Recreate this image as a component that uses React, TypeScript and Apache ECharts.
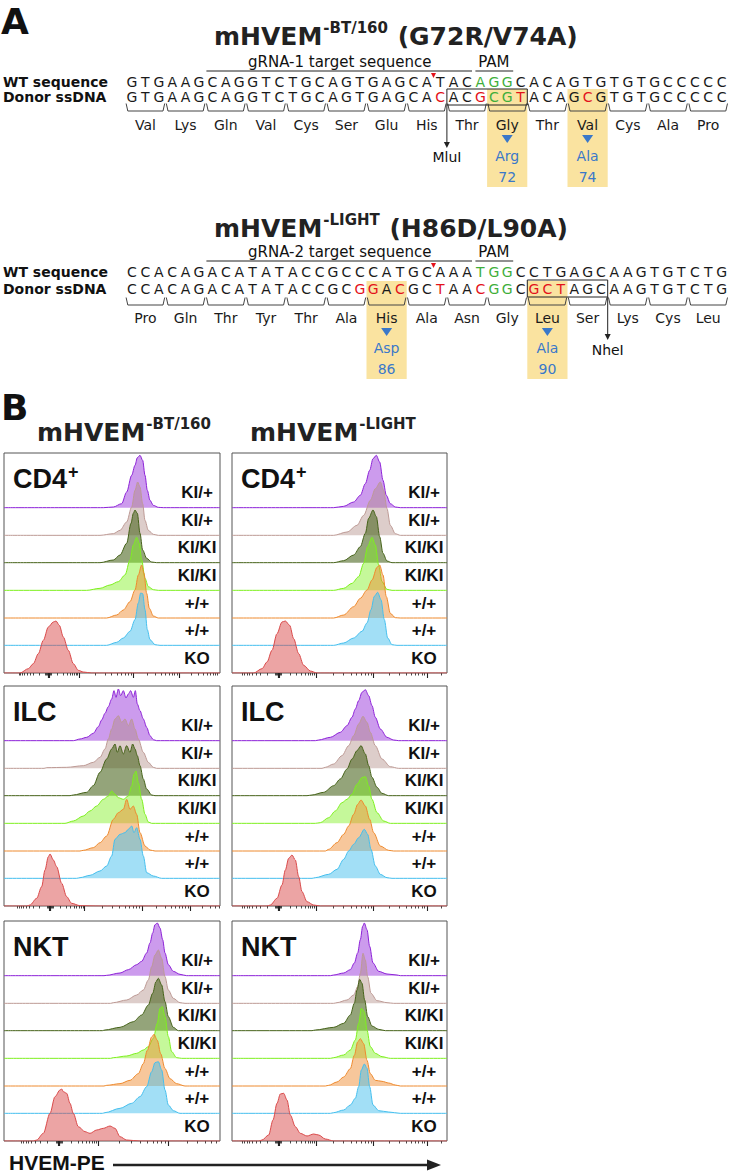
import React, { useEffect, useRef } from 'react';
import * as echarts from 'echarts';

// ---------------- Panel A data ----------------
const seq1WT = 'GTGAAGCAGGTCTGCAGTGAGCATACAGGCACAGTGTGTGCCCCC';
const seq1Donor = 'GTGAAGCAGGTCTGCAGTGAGCACACGCGTACAGCGTGTGCCCCC';
const seq1WTGreen = [26, 27, 28];
const seq1DonorRed = [23, 26, 29, 34];
const seq1DonorGreen = [27, 28];
const aa1 = ['Val', 'Lys', 'Gln', 'Val', 'Cys', 'Ser', 'Glu', 'His', 'Thr', 'Gly', 'Thr', 'Val', 'Cys', 'Ala', 'Pro'];
const mut1Codons = [9, 11];
const mut1AA = ['Arg', 'Ala'];
const mut1Pos = ['72', '74'];

const seq2WT = 'CCACAGACATATACCGCCCATGCAAATGGCCTGAGCAAGTGTCTG';
const seq2Donor = 'CCACAGACATATACCGCGGACGCTAACGGCGCTAGCAAGTGTCTG';
const seq2WTGreen = [26, 27, 28];
const seq2DonorRed = [17, 18, 20, 23, 26, 30, 31, 32];
const seq2DonorGreen = [27, 28];
const aa2 = ['Pro', 'Gln', 'Thr', 'Tyr', 'Thr', 'Ala', 'His', 'Ala', 'Asn', 'Gly', 'Leu', 'Ser', 'Lys', 'Cys', 'Leu'];
const mut2Codons = [6, 10];
const mut2AA = ['Asp', 'Ala'];
const mut2Pos = ['86', '90'];

// ---------------- Panel B data ----------------
// histogram rows (top->bottom): purple, brown, dark green, lime, orange, blue, KO
// each point: [fluorescence channel, height above the row baseline]
const genotypes = ['KI/+', 'KI/+', 'KI/KI', 'KI/KI', '+/+', '+/+', 'KO'];
const cellTypes = ['CD4', 'ILC', 'NKT'];

const cd4Bt = [
  [[298,0],[328,2],[353,12],[368,47],[383,97],[393,127],[400,150],[408,157],[416,142],[423,97],[430,52],[438,22],[448,7],[463,1],[478,0]],
  [[288,0],[328,5],[348,15],[368,40],[383,85],[393,135],[401,160],[408,145],[416,95],[423,45],[433,15],[448,3],[463,0]],
  [[288,0],[328,8],[348,23],[368,58],[381,118],[388,148],[393,158],[400,148],[408,88],[416,38],[428,13],[443,2],[458,0]],
  [[248,0],[288,6],[318,16],[343,26],[363,46],[378,91],[388,136],[398,159],[406,141],[413,91],[423,36],[433,11],[448,2],[463,0]],
  [[308,0],[338,9],[358,24],[378,49],[393,84],[403,129],[413,159],[420,134],[428,74],[436,29],[448,6],[463,0]],
  [[308,0],[338,9],[358,22],[378,42],[393,77],[403,127],[410,157],[416,155],[423,107],[430,47],[438,17],[453,2],[468,0]],
  [[48,0],[73,13],[88,28],[103,58],[118,98],[133,138],[148,153],[156,156],[166,143],[178,108],[193,68],[208,28],[223,8],[238,3],[263,0]],
];
const cd4Light = [
  [[305,0],[335,4],[365,17],[385,37],[400,72],[413,112],[423,147],[433,157],[443,137],[453,82],[463,37],[475,12],[490,2],[505,0]],
  [[305,0],[345,10],[375,30],[395,60],[415,105],[430,140],[445,160],[455,135],[465,80],[475,30],[490,5],[505,0]],
  [[305,0],[335,6],[365,23],[385,48],[400,88],[410,133],[423,158],[433,138],[443,78],[453,28],[465,5],[480,0]],
  [[305,0],[335,6],[360,21],[380,41],[395,81],[407,131],[420,159],[430,136],[440,76],[450,26],[465,3],[480,0]],
  [[305,0],[335,9],[365,34],[385,59],[405,84],[420,114],[435,152],[443,159],[453,129],[463,64],[475,14],[490,1],[505,0]],
  [[305,0],[335,7],[365,22],[390,42],[405,67],[417,107],[427,147],[437,159],[447,137],[457,77],[467,22],[480,2],[495,0]],
  [[65,0],[90,13],[105,33],[120,68],[135,118],[150,153],[160,156],[173,143],[185,103],[200,58],[215,23],[235,6],[255,0]],
];
const ilcBt = [
  [[208,0],[228,5],[248,10],[268,22],[283,42],[293,62],[303,82],[313,102],[323,125],[330,150],[336,130],[343,155],[350,135],[358,150],[366,128],[373,140],[380,150],[388,130],[394,150],[400,110],[408,90],[418,65],[428,40],[438,15],[448,3],[458,0]],
  [[120,0],[128,2],[188,3],[238,8],[268,18],[288,33],[303,58],[313,88],[323,118],[333,148],[343,158],[353,138],[363,148],[373,128],[383,148],[393,118],[403,88],[418,48],[433,18],[448,3],[458,0]],
  [[198,0],[208,2],[248,10],[268,30],[288,70],[308,110],[323,140],[333,155],[340,130],[348,150],[358,125],[368,150],[378,130],[386,155],[393,140],[400,120],[408,90],[418,50],[428,20],[443,2],[453,0]],
  [[183,0],[208,7],[238,22],[258,37],[278,52],[298,72],[313,82],[323,97],[333,87],[343,77],[358,72],[373,82],[383,112],[390,147],[396,157],[403,122],[413,72],[423,27],[433,4],[443,0]],
  [[228,0],[238,2],[268,10],[288,25],[308,45],[328,95],[343,115],[358,125],[368,155],[378,125],[388,135],[398,110],[408,55],[423,15],[438,3],[453,0]],
  [[218,0],[228,2],[258,9],[288,22],[308,37],[323,67],[333,117],[348,132],[363,137],[373,147],[383,157],[390,137],[398,152],[408,117],[418,67],[428,17],[448,7],[473,0]],
  [[68,0],[78,3],[98,23],[113,58],[123,108],[133,148],[138,156],[148,138],[158,118],[173,68],[188,28],[203,8],[228,1],[288,0]],
];
const ilcLight = [
  [[250,0],[260,2],[295,10],[325,25],[345,45],[360,70],[370,95],[380,120],[390,145],[400,153],[410,135],[420,105],[430,70],[445,35],[465,10],[485,2],[500,0]],
  [[270,0],[280,3],[305,13],[330,38],[350,68],[365,98],[380,133],[393,156],[405,138],[415,108],[430,68],[450,28],[475,5],[500,0]],
  [[225,0],[240,2],[275,10],[305,30],[325,50],[345,80],[360,110],[375,135],[387,150],[400,125],[410,90],[420,55],[435,25],[450,7],[470,0]],
  [[250,0],[265,2],[290,17],[310,37],[330,62],[345,72],[360,87],[375,117],[390,137],[400,140],[410,112],[420,72],[435,32],[455,7],[475,0]],
  [[280,0],[290,5],[315,25],[335,50],[350,75],[365,110],[377,140],[387,153],[400,135],[413,95],[425,55],[445,15],[470,2],[485,0]],
  [[240,0],[250,2],[290,12],[315,27],[335,57],[350,82],[365,102],[380,122],[397,147],[407,132],[417,87],[430,37],[445,12],[465,2],[480,0]],
  [[105,0],[115,3],[135,23],[150,63],[160,108],[170,143],[180,153],[190,138],[200,88],[210,43],[225,13],[245,3],[265,0]],
];
const nktBt = [
  [[300,0],[308,1],[348,8],[373,18],[398,33],[413,43],[428,68],[438,98],[446,128],[453,153],[460,158],[468,143],[476,108],[483,68],[493,33],[508,13],[528,4],[548,0]],
  [[320,0],[328,2],[368,10],[398,25],[418,40],[433,70],[443,110],[453,145],[463,160],[473,135],[483,80],[493,40],[508,15],[528,2],[543,0]],
  [[295,0],[303,2],[348,10],[388,27],[413,47],[433,77],[446,112],[456,147],[463,157],[473,137],[483,87],[493,42],[508,10],[523,0]],
  [[320,0],[328,2],[368,7],[398,15],[418,25],[433,35],[448,60],[460,105],[468,150],[475,155],[483,125],[493,65],[503,20],[518,2],[533,0]],
  [[300,0],[308,2],[348,7],[378,17],[403,37],[418,67],[430,107],[443,147],[450,155],[460,137],[470,97],[483,52],[498,22],[518,7],[543,0]],
  [[295,0],[303,2],[348,15],[383,30],[408,50],[428,80],[443,125],[453,152],[463,155],[473,130],[483,70],[493,25],[508,8],[528,0]],
  [[88,0],[98,3],[118,23],[138,83],[153,133],[168,153],[173,156],[178,148],[188,143],[198,113],[208,83],[223,43],[243,28],[258,23],[278,33],[298,38],[318,45],[333,38],[348,13],[368,3],[408,0]],
];
const nktLight = [
  [[295,0],[305,2],[335,8],[355,18],[367,38],[377,68],[385,108],[392,148],[397,158],[405,138],[413,88],[423,38],[440,13],[465,5],[495,2],[505,0]],
  [[305,0],[315,2],[345,10],[365,25],[377,50],[385,90],[393,150],[400,130],[407,80],[417,30],[435,8],[465,2],[485,0]],
  [[240,0],[250,2],[305,10],[335,22],[355,47],[367,82],[375,122],[383,154],[390,142],[398,92],[407,42],[420,14],[440,4],[460,0]],
  [[295,0],[305,2],[335,10],[355,25],[370,55],[380,105],[388,150],[397,140],[405,85],[415,35],[430,15],[450,5],[475,0]],
  [[280,0],[290,2],[315,12],[335,27],[355,52],[367,92],[377,132],[385,142],[395,127],[405,77],[415,37],[430,17],[450,14],[470,9],[490,3],[505,0]],
  [[295,0],[305,2],[335,10],[355,25],[370,45],[380,80],[388,130],[397,148],[405,135],[413,80],[423,25],[440,8],[470,4],[505,0]],
  [[80,0],[90,3],[110,18],[123,63],[135,113],[145,141],[155,143],[165,123],[175,78],[190,43],[205,23],[225,15],[245,21],[260,18],[280,6],[305,0]],
];

// axis tick positions (channel units): zero of the biexponential scale and decade ticks
const tickZero = [133, 140, 138, 140, 165, 140];
const tickMajor = [[225, 388, 525], [253, 425, 585], [241, 415, 558], [253, 425, 585], [283, 493], [253, 425, 585]];

// ---------------- styles ----------------
const rowLine = ['#8d22d8', '#bd9a95', '#46631a', '#7ef01e', '#ee8a2e', '#45bfee', '#d94a4a'];
const rowFill = ['rgba(141,34,216,0.45)', 'rgba(175,135,128,0.42)', 'rgba(70,99,26,0.58)', 'rgba(126,240,30,0.45)', 'rgba(238,138,46,0.48)', 'rgba(69,191,238,0.5)', 'rgba(217,74,74,0.5)'];
const rowBase = [496, 413, 331, 248, 165, 83, 0];

const RED = '#e3121b';
const GREEN = '#3fae3a';
const BLUE = '#3a78c9';
const YELLOW = '#fae3a0';
const FONT_SEQ = '14px DejaVu Sans';
const FONT_AA = '14px DejaVu Sans';
const FONT_LBL = 'bold 14px DejaVu Sans';
const FONT_TITLE = 'bold 25px DejaVu Sans';
const FONT_SUP = 'bold 15px DejaVu Sans';

function measure(text: string, font: string) {
  const c = document.createElement('canvas').getContext('2d')!;
  c.font = font;
  return c.measureText(text).width;
}

function T(text: string, x: number, y: number, font: string, fill = '#111', align = 'center'): any {
  return {
    type: 'text', x, y, silent: true, z: 20,
    style: { text, font, fill, align, verticalAlign: 'middle', textAlign: align, textVerticalAlign: 'middle' },
  };
}
function L(x1: number, y1: number, x2: number, y2: number, stroke = '#222', lw = 1): any {
  return { type: 'line', silent: true, z: 15, shape: { x1, y1, x2, y2 }, style: { stroke, lineWidth: lw } };
}
function PG(points: number[][], fill: string): any {
  return { type: 'polygon', silent: true, z: 15, shape: { points }, style: { fill } };
}
function R(x: number, y: number, w: number, h: number, fill: string, stroke?: string): any {
  return {
    type: 'rect', silent: true, z: stroke ? 16 : 5, shape: { x, y, width: w, height: h },
    style: stroke ? { fill: 'none', stroke, lineWidth: 1 } : { fill },
  };
}

const X0 = 132;
const PITCH = 13.4;
const cx = (i: number) => X0 + PITCH * i;
const codonL = (k: number) => X0 - PITCH / 2 + 3 * PITCH * k;

function titleEls(x: number, base: number, main: string, sup: string, rest: string) {
  const els: any[] = [];
  const w1 = measure(main, FONT_TITLE);
  const w2 = measure(sup, FONT_SUP);
  els.push(T(main, x, base - 8.8, FONT_TITLE, '#222', 'left'));
  els.push(T(sup, x + w1 + 1, base - 17.5, FONT_SUP, '#222', 'left'));
  if (rest) els.push(T(rest, x + w1 + w2 + 2, base - 8.8, FONT_TITLE, '#222', 'left'));
  return els;
}

function blockEls(b: any) {
  const els: any[] = [];
  // yellow highlights
  b.mutCodons.forEach((k: number) => {
    els.push(R(codonL(k), b.hlTop, 3 * PITCH, b.hlBot - b.hlTop, YELLOW));
  });
  els.push(...titleEls(214, b.titleBase, 'mHVEM', b.sup, b.rest));
  // gRNA / PAM overlines
  els.push(T(b.grna, (cx(6) + cx(25)) / 2, b.grnaY, '15px DejaVu Sans', '#111'));
  els.push(T('PAM', cx(27), b.grnaY, '15px DejaVu Sans', '#111'));
  els.push(L(cx(6) - 6, b.lineY, cx(25) + 5, b.lineY, '#222', 1.2));
  els.push(L(cx(26) - 5, b.lineY, cx(28) + 6, b.lineY, '#222', 1.2));
  // cut site marker
  const cut = (cx(22) + cx(23)) / 2;
  els.push(PG([[cut - 2.5, b.cutY], [cut + 2.5, b.cutY], [cut, b.cutY + 5]], RED));
  // row labels
  els.push(T('WT sequence', 3, b.wtY, FONT_LBL, '#111', 'left'));
  els.push(T('Donor ssDNA', 3, b.donorY, FONT_LBL, '#111', 'left'));
  // sequences
  b.wt.split('').forEach((ch: string, i: number) => {
    els.push(T(ch, cx(i), b.wtY, FONT_SEQ, b.wtGreen.includes(i) ? GREEN : '#1a1a1a'));
  });
  b.donor.split('').forEach((ch: string, i: number) => {
    const col = b.donorRed.includes(i) ? RED : b.donorGreen.includes(i) ? GREEN : '#1a1a1a';
    els.push(T(ch, cx(i), b.donorY, FONT_SEQ, col));
  });
  // restriction site box
  els.push(R(cx(b.boxFrom) - PITCH / 2, b.boxTop, 6 * PITCH, b.boxBot - b.boxTop, '', '#222'));
  // codon brackets + amino acids
  b.aa.forEach((a: string, k: number) => {
    const l = codonL(k), r = codonL(k + 1);
    els.push({
      type: 'polyline', silent: true, z: 15,
      shape: { points: [[l + 0.8, b.brTop], [l + 2.5, b.brBot], [r - 2.5, b.brBot], [r - 0.8, b.brTop]] },
      style: { stroke: '#444', lineWidth: 1, fill: 'none' },
    });
    els.push(T(a, (l + r) / 2, b.aaY, FONT_AA, '#1a1a1a'));
  });
  // mutations
  b.mutCodons.forEach((k: number, j: number) => {
    const c = codonL(k) + 1.5 * PITCH;
    els.push(PG([[c - 5.5, b.triY], [c + 5.5, b.triY], [c, b.triY + 8]], BLUE));
    els.push(T(b.mutAA[j], c, b.mutY, FONT_AA, BLUE));
    els.push(T(b.mutPos[j], c, b.posY, FONT_AA, BLUE));
  });
  // restriction enzyme arrow
  const sx = codonL(b.siteCodon);
  els.push(L(sx, b.boxBot, sx, b.arrowBot - 4, '#222', 1));
  els.push(PG([[sx - 3, b.arrowBot - 5], [sx + 3, b.arrowBot - 5], [sx, b.arrowBot + 1]], '#222'));
  els.push(T(b.site, sx, b.siteY, FONT_AA, '#111'));
  return els;
}

function buildTicks(z: number, majors: number[], W: number) {
  const LG = [2, 3, 4, 5, 6, 7, 8, 9].map((v) => Math.log10(v));
  const minor: number[] = [];
  const span = majors[0] - z;
  LG.forEach((l) => { minor.push(z + span * l); minor.push(z - span * l); });
  [3, 6, 9].forEach((d) => { minor.push(z + d); minor.push(z - d); });
  const ms = [...majors];
  const last = ms[ms.length - 1], prev = ms[ms.length - 2];
  ms.push(last + (last - prev) * 0.88);
  for (let i = 0; i < ms.length - 1; i++) LG.forEach((l) => minor.push(ms[i] + (ms[i + 1] - ms[i]) * l));
  return {
    minor: minor.filter((v) => v > 2 && v < W - 2).map((v) => Math.round(v * 10) / 10),
    major: [z - 1.5, z, z + 1.5, ...majors].filter((v) => v < W - 2),
  };
}

function buildOption() {
  const graphic: any[] = [];
  graphic.push(T('A', 1, 21, 'bold 36px DejaVu Sans', '#111', 'left'));
  graphic.push(...blockEls({
    sup: '-BT/160', rest: ' (G72R/V74A)', titleBase: 45, grna: 'gRNA-1 target sequence', grnaY: 62, lineY: 71, cutY: 73,
    wtY: 81.5, donorY: 97, wt: seq1WT, donor: seq1Donor, wtGreen: seq1WTGreen, donorRed: seq1DonorRed, donorGreen: seq1DonorGreen,
    boxFrom: 24, boxTop: 89, boxBot: 105, brTop: 103.5, brBot: 111, aa: aa1, aaY: 125,
    mutCodons: mut1Codons, mutAA: mut1AA, mutPos: mut1Pos, hlTop: 89, hlBot: 187, triY: 135, mutY: 156, posY: 177,
    siteCodon: 8, arrowBot: 147, site: 'MluI', siteY: 157,
  }));
  graphic.push(...blockEls({
    sup: '-LIGHT', rest: ' (H86D/L90A)', titleBase: 237, grna: 'gRNA-2 target sequence', grnaY: 252, lineY: 261, cutY: 263,
    wtY: 272, donorY: 289, wt: seq2WT, donor: seq2Donor, wtGreen: seq2WTGreen, donorRed: seq2DonorRed, donorGreen: seq2DonorGreen,
    boxFrom: 30, boxTop: 280, boxBot: 297, brTop: 297.5, brBot: 305, aa: aa2, aaY: 318,
    mutCodons: mut2Codons, mutAA: mut2AA, mutPos: mut2Pos, hlTop: 281, hlBot: 379, triY: 328, mutY: 348, posY: 369,
    siteCodon: 12, arrowBot: 339, site: 'NheI', siteY: 350,
  }));

  // Panel B headers
  graphic.push(T('B', 1, 407, 'bold 36px DejaVu Sans', '#111', 'left'));
  graphic.push(...titleEls(37, 441, 'mHVEM', '-BT/160', ''));
  graphic.push(...titleEls(250, 441, 'mHVEM', '-LIGHT', ''));

  const colLeft = [4, 232];
  const colWidth = [216, 215];
  const rowTop = [453, 686, 921];
  const PH = 220;
  const panels = [cd4Bt, cd4Light, ilcBt, ilcLight, nktBt, nktLight];

  const grid: any[] = [];
  const xAxis: any[] = [];
  const yAxis: any[] = [];
  const series: any[] = [];
  const CT_FONT = 'bold 27px Liberation Sans';
  const GT_FONT = 'bold 17px Liberation Sans';

  panels.forEach((curves, pi) => {
    const r = Math.floor(pi / 2), c = pi % 2;
    const left = colLeft[c], top = rowTop[r], width = colWidth[c];
    const W = width * 3;
    grid.push({ left, top, width, height: PH, show: true, borderColor: '#555', borderWidth: 1, backgroundColor: 'transparent', containLabel: false, outerBoundsMode: 'none' });
    const tk = buildTicks(tickZero[pi], tickMajor[pi], W);
    const base = {
      gridIndex: pi, type: 'value', min: 0, max: W, position: 'bottom', offset: 0,
      axisLine: { show: false }, splitLine: { show: false }, axisLabel: { show: false },
    };
    xAxis.push({ ...base, axisTick: { show: true, customValues: tk.minor, length: 2.5, lineStyle: { color: '#333', width: 0.9 } } });
    xAxis.push({ ...base, axisTick: { show: true, customValues: tk.major, length: 5, lineStyle: { color: '#222', width: 1.1 } } });
    yAxis.push({ gridIndex: pi, type: 'value', min: 0, max: 660, show: false, splitLine: { show: false } });

    curves.forEach((curve: number[][], ri: number) => {
      const b = rowBase[ri];
      series.push({
        type: 'line', xAxisIndex: pi * 2, yAxisIndex: pi, symbol: 'none', smooth: 0.3, smoothMonotone: 'x',
        silent: true, z: 2 + ri,
        data: [[0, b], ...curve.map(([x, h]) => [x, b + h]), [W, b]],
        lineStyle: { color: rowLine[ri], width: 1 },
        areaStyle: { color: rowFill[ri], origin: b, opacity: 1 },
      });
      graphic.push(T(genotypes[ri], left + width - 23, top + PH - b / 3 - 15, GT_FONT, '#111'));
    });

    const ct = cellTypes[r];
    graphic.push(T(ct, left + 9, top + 25.5, CT_FONT, '#111', 'left'));
    if (ct === 'CD4') {
      const w = measure('CD4', CT_FONT);
      graphic.push(T('+', left + 9 + w + 1, top + 19, 'bold 18px Liberation Sans', '#111', 'left'));
    }
  });

  // x axis title with arrow
  graphic.push(T('HVEM-PE', 9, 1162.5, 'bold 21px Liberation Sans', '#111', 'left'));
  graphic.push(L(113, 1165, 430, 1165, '#222', 2.6));
  graphic.push(PG([[427, 1159.5], [441, 1165], [427, 1170.5]], '#222'));

  return {
    animation: false,
    backgroundColor: '#fff',
    grid, xAxis, yAxis, series, graphic,
  };
}

export default function App() {
  const ref = useRef<HTMLDivElement>(null);
  useEffect(() => {
    document.body.style.margin = '0';
    const chart = echarts.init(ref.current!, null, { renderer: 'svg', width: 730, height: 1175 });
    chart.setOption(buildOption() as any);
    return () => chart.dispose();
  }, []);
  return <div ref={ref} style={{ width: 730, height: 1175 }} />;
}
